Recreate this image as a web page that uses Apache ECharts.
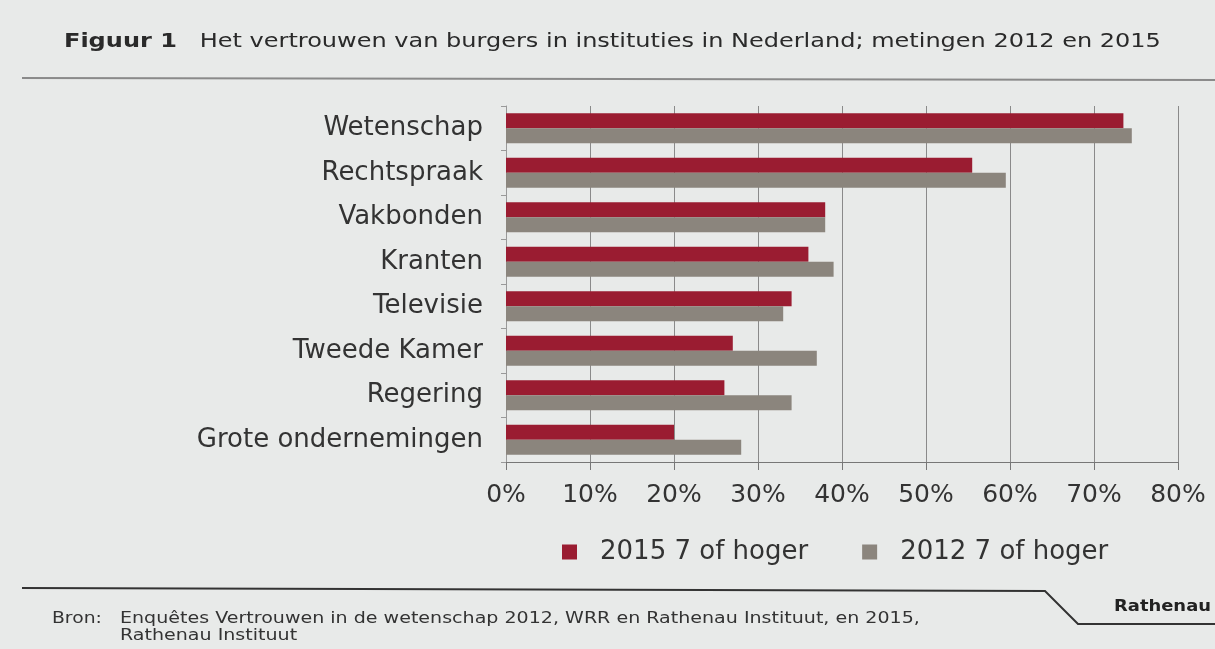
<!DOCTYPE html>
<html><head><meta charset="utf-8">
<script src="https://cdn.jsdelivr.net/npm/echarts@6/dist/echarts.min.js"></script>
<style>html,body{margin:0;padding:0;background:#e8eae9;}#c{width:1215px;height:649px;}</style>
</head><body><div id="c"></div>
<script>
const categories = ['Wetenschap','Rechtspraak','Vakbonden','Kranten','Televisie','Tweede Kamer','Regering','Grote ondernemingen'];
const values2015 = [73.5, 55.5, 38, 36, 34, 27, 26, 20];
const values2012 = [74.5, 59.5, 38, 39, 33, 37, 34, 28];
const seriesNames = ['2015 7 of hoger', '2012 7 of hoger'];
const xTicks = [0, 10, 20, 30, 40, 50, 60, 70, 80];

const chart = echarts.init(document.getElementById('c'));
const F = '"DejaVu Sans", Verdana, sans-serif';
chart.setOption({
  backgroundColor: '#e8eae9',
  animation: false,
  legend: {
    data: seriesNames, left: 557, top: 534, itemWidth: 15, itemHeight: 15, itemGap: 54,
    icon: 'rect',
    textStyle: {fontFamily: F, fontSize: 26, color: '#333', padding: [0,0,0,18]}
  },
  grid: {left: 506, right: 37, top: 106, bottom: 187},
  xAxis: {
    type: 'value', min: 0, max: 80, interval: 10,
    axisLine: {show: true, lineStyle: {color: '#777'}},
    axisTick: {show: true, length: 8, lineStyle: {color: '#777'}},
    splitLine: {show: true, lineStyle: {color: '#8a8a8a', width: 1}},
    axisLabel: {fontFamily: F, fontSize: 25, color: '#333', margin: 21,
      formatter: v => xTicks.includes(v) ? v + '%' : ''}
  },
  yAxis: {
    type: 'category', data: categories, inverse: true,
    axisLine: {show: true, lineStyle: {color: '#999'}},
    axisTick: {show: true, length: 5, lineStyle: {color: '#999'}},
    axisLabel: {fontFamily: F, fontSize: 26, color: '#333', margin: 23}
  },
  series: [
    {name: seriesNames[0], type: 'bar', data: values2015, barGap: '0%', barCategoryGap: '33%',
     itemStyle: {color: '#9a1c31'}},
    {name: seriesNames[1], type: 'bar', data: values2012, barGap: '0%', barCategoryGap: '33%',
     itemStyle: {color: '#8b857d'}}
  ],
  graphic: [
    {type: 'text', x: 64, y: 32, scaleX: 1.2,
     style: {text: '{b|Figuur 1}   Het vertrouwen van burgers in instituties in Nederland; metingen 2012 en 2015',
       fontFamily: F, fontSize: 20, fill: '#2a2a2a',
       rich: {b: {fontFamily: F, fontSize: 20, fontWeight: 'bold', fill: '#2a2a2a'}}}},
    {type: 'line', shape: {x1: 22, y1: 78, x2: 1215, y2: 80}, style: {stroke: '#8a8a8a', lineWidth: 2}},
    {type: 'polyline', shape: {points: [[22, 588], [1045, 591], [1078, 624], [1215, 624]]}, style: {stroke: '#333', lineWidth: 2, fill: null}},
    {type: 'text', x: 1114, y: 599, scaleX: 1.12, style: {text: 'Rathenau', fontFamily: F, fontSize: 16, fontWeight: 'bold', fill: '#222'}},
    {type: 'text', x: 52, y: 612, scaleX: 1.25, style: {text: 'Bron:', fontFamily: F, fontSize: 15, fill: '#333'}},
    {type: 'text', x: 120, y: 611, scaleX: 1.27, style: {text: 'Enquêtes Vertrouwen in de wetenschap 2012, WRR en Rathenau Instituut, en 2015,\nRathenau Instituut', fontFamily: F, fontSize: 15, lineHeight: 17, fill: '#333'}}
  ]
});
</script></body></html>
